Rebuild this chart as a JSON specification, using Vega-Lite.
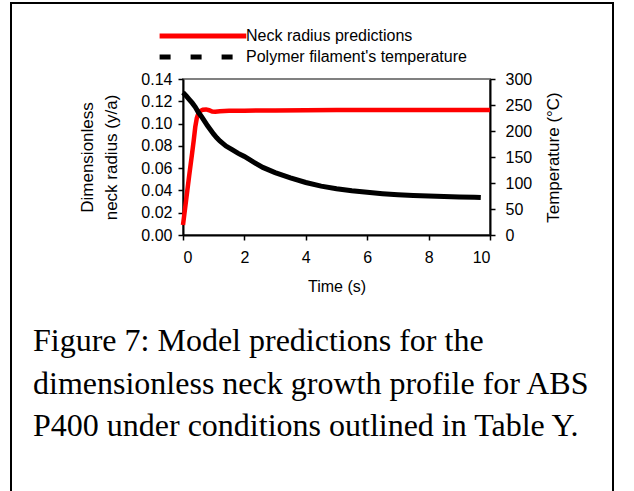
{
  "$schema": "https://vega.github.io/schema/vega-lite/v6.json",
  "width": 307,
  "height": 156,
  "autosize": {"type": "none"},
  "padding": {"left": 183, "top": 79, "right": 144, "bottom": 256},
  "background": "white",
  "config": {
    "font": "Liberation Sans",
    "view": {"stroke": "#808080", "strokeWidth": 2},
    "axis": {
      "labelFont": "Liberation Sans", "labelFontSize": 16, "labelColor": "black",
      "titleFont": "Liberation Sans", "titleFontSize": 16, "titleFontWeight": "normal", "titleColor": "black",
      "domainColor": "black", "domainWidth": 2, "tickColor": "black", "tickWidth": 1.5, "tickSize": 5, "grid": false
    }
  },
  "datasets": {
    "neck": [
      {"series": "Neck radius predictions", "t": 0, "r": 0.009},
      {"series": "Neck radius predictions", "t": 0.1, "r": 0.031},
      {"series": "Neck radius predictions", "t": 0.2, "r": 0.053},
      {"series": "Neck radius predictions", "t": 0.3, "r": 0.074},
      {"series": "Neck radius predictions", "t": 0.35, "r": 0.085},
      {"series": "Neck radius predictions", "t": 0.4, "r": 0.097},
      {"series": "Neck radius predictions", "t": 0.45, "r": 0.105},
      {"series": "Neck radius predictions", "t": 0.5, "r": 0.109},
      {"series": "Neck radius predictions", "t": 0.55, "r": 0.111},
      {"series": "Neck radius predictions", "t": 0.65, "r": 0.1125},
      {"series": "Neck radius predictions", "t": 0.75, "r": 0.1127},
      {"series": "Neck radius predictions", "t": 0.85, "r": 0.112},
      {"series": "Neck radius predictions", "t": 0.95, "r": 0.1108},
      {"series": "Neck radius predictions", "t": 1.05, "r": 0.1107},
      {"series": "Neck radius predictions", "t": 1.2, "r": 0.1111},
      {"series": "Neck radius predictions", "t": 1.5, "r": 0.1114},
      {"series": "Neck radius predictions", "t": 2, "r": 0.1116},
      {"series": "Neck radius predictions", "t": 3, "r": 0.1118},
      {"series": "Neck radius predictions", "t": 4, "r": 0.112},
      {"series": "Neck radius predictions", "t": 5, "r": 0.1121},
      {"series": "Neck radius predictions", "t": 6, "r": 0.1121},
      {"series": "Neck radius predictions", "t": 7, "r": 0.1121},
      {"series": "Neck radius predictions", "t": 8, "r": 0.1121},
      {"series": "Neck radius predictions", "t": 9, "r": 0.1121},
      {"series": "Neck radius predictions", "t": 10, "r": 0.1121}
    ],
    "temp": [
      {"series": "Polymer filament's temperature", "t": 0, "T": 274},
      {"series": "Polymer filament's temperature", "t": 0.1, "T": 268},
      {"series": "Polymer filament's temperature", "t": 0.2, "T": 261},
      {"series": "Polymer filament's temperature", "t": 0.3, "T": 254},
      {"series": "Polymer filament's temperature", "t": 0.4, "T": 246},
      {"series": "Polymer filament's temperature", "t": 0.5, "T": 236},
      {"series": "Polymer filament's temperature", "t": 0.6, "T": 228},
      {"series": "Polymer filament's temperature", "t": 0.7, "T": 219},
      {"series": "Polymer filament's temperature", "t": 0.8, "T": 210},
      {"series": "Polymer filament's temperature", "t": 0.9, "T": 202},
      {"series": "Polymer filament's temperature", "t": 1.0, "T": 194},
      {"series": "Polymer filament's temperature", "t": 1.1, "T": 187},
      {"series": "Polymer filament's temperature", "t": 1.2, "T": 181},
      {"series": "Polymer filament's temperature", "t": 1.4, "T": 171},
      {"series": "Polymer filament's temperature", "t": 1.6, "T": 164},
      {"series": "Polymer filament's temperature", "t": 1.8, "T": 157},
      {"series": "Polymer filament's temperature", "t": 2.0, "T": 151},
      {"series": "Polymer filament's temperature", "t": 2.3, "T": 140},
      {"series": "Polymer filament's temperature", "t": 2.6, "T": 130},
      {"series": "Polymer filament's temperature", "t": 3.0, "T": 120},
      {"series": "Polymer filament's temperature", "t": 3.5, "T": 110},
      {"series": "Polymer filament's temperature", "t": 4.0, "T": 101},
      {"series": "Polymer filament's temperature", "t": 4.5, "T": 94},
      {"series": "Polymer filament's temperature", "t": 5.0, "T": 89},
      {"series": "Polymer filament's temperature", "t": 5.5, "T": 85},
      {"series": "Polymer filament's temperature", "t": 6.0, "T": 82},
      {"series": "Polymer filament's temperature", "t": 6.5, "T": 79.5},
      {"series": "Polymer filament's temperature", "t": 7.0, "T": 77.5},
      {"series": "Polymer filament's temperature", "t": 7.5, "T": 76},
      {"series": "Polymer filament's temperature", "t": 8.0, "T": 75},
      {"series": "Polymer filament's temperature", "t": 8.5, "T": 74},
      {"series": "Polymer filament's temperature", "t": 9.0, "T": 73},
      {"series": "Polymer filament's temperature", "t": 9.5, "T": 72.5},
      {"series": "Polymer filament's temperature", "t": 9.7, "T": 72}
    ]
  },
  "layer": [
    {
      "data": {"name": "neck"},
      "mark": {"type": "line", "strokeWidth": 4.5},
      "encoding": {
        "x": {"field": "t", "type": "quantitative", "scale": {"domain": [0, 10]},
              "axis": {"values": [0, 2, 4, 6, 8, 10], "title": "Time (s)", "labelPadding": 9, "titlePadding": 13}},
        "y": {"field": "r", "type": "quantitative", "scale": {"domain": [0, 0.14]},
              "axis": {"values": [0, 0.02, 0.04, 0.06, 0.08, 0.1, 0.12, 0.14], "format": ".2f",
                       "title": ["Dimensionless", "neck radius (y/a)"], "titleFontSize": 17, "titleLineHeight": 24, "labelPadding": 6, "titlePadding": 20}},
        "color": {
          "field": "series", "type": "nominal",
          "scale": {"domain": ["Neck radius predictions", "Polymer filament's temperature"], "range": ["#ff0000", "#000000"]},
          "legend": {
            "orient": "none", "legendX": -172, "legendY": -76, "direction": "vertical",
            "title": ["Figure 7: Model predictions for the", "dimensionless neck growth profile for ABS", "P400 under conditions outlined in Table Y.", " "],
            "titleOrient": "bottom", "titleAnchor": "start", "titleAlign": "left", "titleBaseline": "top",
            "titleFont": "Liberation Serif", "titleFontSize": 32, "titleFontWeight": "normal", "titleColor": "black",
            "titleLineHeight": 42.5, "titleLimit": 2000, "titlePadding": 259,
            "labelFont": "Liberation Sans", "labelFontSize": 16, "labelColor": "black", "labelOffset": 191, "labelLimit": 500,
            "symbolType": "M13.6,0H23.8", "symbolSize": 289, "symbolStrokeWidth": 5,
            "rowPadding": -4, "padding": 22, "strokeColor": "black",
            "encode": {
              "legend": {"update": {"strokeWidth": {"value": 2}}},
              "symbols": {"update": {"strokeDash": [{"test": "datum.value !== 'Neck radius predictions'", "value": [11, 20]}, {"value": [1, 0]}]}}
            }
          }
        }
      }
    },
    {
      "data": {"name": "temp"},
      "mark": {"type": "line", "strokeWidth": 5},
      "encoding": {
        "x": {"field": "t", "type": "quantitative"},
        "y": {"field": "T", "type": "quantitative", "scale": {"domain": [0, 300]},
              "axis": {"orient": "right", "values": [0, 50, 100, 150, 200, 250, 300], "title": "Temperature (°C)", "titleAngle": 270,
                       "titleFontSize": 17, "labelPadding": 10, "titlePadding": 31}},
        "color": {"field": "series", "type": "nominal"}
      }
    }
  ],
  "resolve": {"scale": {"y": "independent"}}
}
